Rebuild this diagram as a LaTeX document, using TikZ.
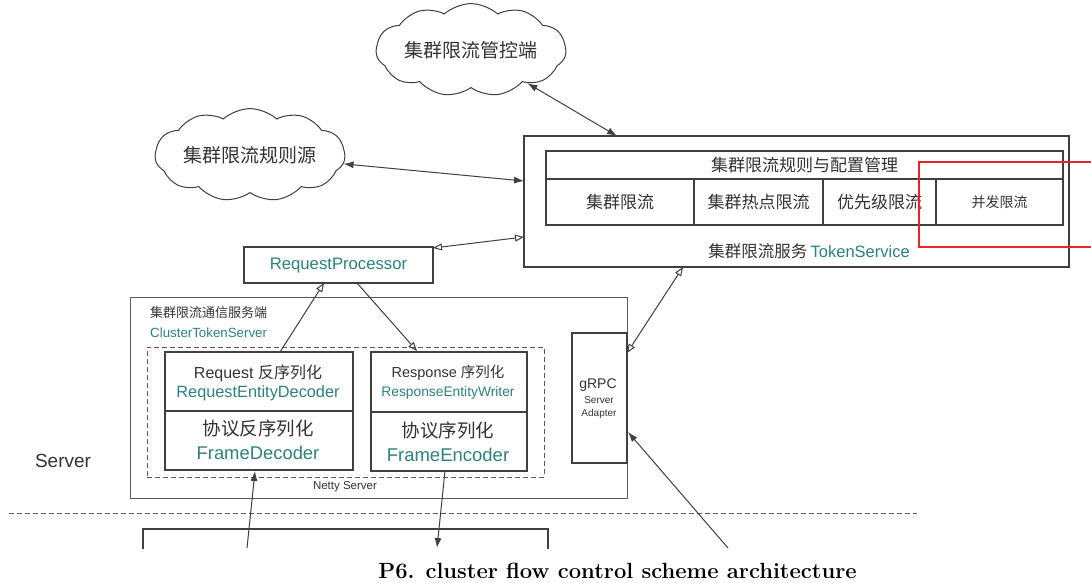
\documentclass[tikz,border=0pt]{standalone}
\usepackage{fontspec}
\usetikzlibrary{shapes.symbols,arrows.meta,calc}
\newfontfamily\lsans{Liberation Sans}
\newfontfamily\cjk{Noto Sans CJK SC}
\newcommand\fsz[1]{\fontsize{#1}{#1}\selectfont}
\definecolor{tealtxt}{RGB}{45,130,125}
\definecolor{txt}{RGB}{51,51,51}
\definecolor{ln}{RGB}{64,64,64}
\definecolor{lnlight}{RGB}{90,90,90}
\definecolor{redbox}{RGB}{235,35,40}
\begin{document}
\begin{tikzpicture}[x=1pt,y=-1pt,
  box/.style={draw=ln, line width=1.2pt, inner sep=0pt, outer sep=0pt, rectangle},
  cloudnode/.style={draw=ln, line width=1pt, cloud, cloud puffs=11, cloud puff arc=85, aspect=2.5, inner sep=0pt, minimum width=190pt, minimum height=74pt, font=\cjk\fsz{19}, text=txt},
  cell/.style={box, minimum height=46pt, font=\cjk\fsz{17}, text=txt},
  lbl/.style={inner sep=0pt, text=txt},
  tl/.style={inner sep=0pt, text=tealtxt},
  biarrow/.style={draw=ln, line width=1pt, {Latex[length=10pt,width=7pt]}-{Latex[length=10pt,width=7pt]}},
  biopen/.style={draw=ln, line width=1pt, {Triangle[open,length=9pt,width=7pt]}-{Triangle[open,length=9pt,width=7pt]}},
  openarrow/.style={draw=ln, line width=1pt, -{Triangle[open,length=9pt,width=7pt]}},
  farrow/.style={draw=ln, line width=1pt, -{Latex[length=10pt,width=7pt]}},
]
\useasboundingbox (0,0) rectangle (1091,582);
\fill[white] (0,0) rectangle (1091,582);

% clouds
\node[cloudnode] (cl1) at (471,50) {集群限流管控端};
\node[cloudnode] (cl2) at (250,155) {集群限流规则源};

% TokenService
\node[box, minimum width=545pt, minimum height=131pt] (ts) at (796.5,201.5) {};
\node[box, minimum width=517pt, minimum height=28pt, font=\cjk\fsz{17}, text=txt] (hdr) at (804.5,165) {集群限流规则与配置管理};
\node[cell, minimum width=148pt] (c1) at (620,202) {集群限流};
\node[cell, minimum width=129pt] (c2) at (758.5,202) {集群热点限流};
\node[cell, minimum width=113pt] (c3) at (879.5,202) {优先级限流};
\node[cell, minimum width=127pt, font=\cjk\fsz{14}] (c4) at (999.5,202) {并发限流};
\node[lbl] (tslabel) at (809,251) {{\cjk\fsz{16.5}集群限流服务} {\lsans\fsz{16.5}\color{tealtxt}TokenService}};
\draw[redbox, line width=2pt] (1095,162) -- (919,162) -- (919,247) -- (1095,247);

% RequestProcessor
\node[box, minimum width=189pt, minimum height=36pt, font=\lsans\fsz{16.7}, text=tealtxt] (rp) at (338.5,265) {RequestProcessor};

% ClusterTokenServer
\node[box, draw=lnlight, line width=1pt, minimum width=497pt, minimum height=201pt] (cts) at (378.5,397.5) {};
\node[lbl, anchor=west, font=\cjk\fsz{13}] (ctsl1) at (150,313) {集群限流通信服务端};
\node[tl, anchor=west, font=\lsans\fsz{13.3}] (ctsl2) at (150,333) {ClusterTokenServer};

\node[draw=lnlight, line width=1pt, dash pattern=on 5pt off 3pt, inner sep=0pt, minimum width=397pt, minimum height=130pt] (netty) at (345.5,412) {};
\node[lbl, font=\lsans\fsz{11.5}] (nettyl) at (345,487) {Netty Server};

% decoder
\node[box, minimum width=188pt, minimum height=59pt] (dect) at (259,381.5) {};
\node[box, minimum width=188pt, minimum height=59pt] (decb) at (259,440.5) {};
\node[lbl] (dect1) at (258,373) {\lsans\fsz{16}Request {\cjk 反序列化}};
\node[tl, font=\lsans\fsz{16.3}] (dect2) at (258,393) {RequestEntityDecoder};
\node[lbl, font=\cjk\fsz{18.5}] (decb1) at (258,428) {协议反序列化};
\node[tl, font=\lsans\fsz{18.4}] (decb2) at (258,453) {FrameDecoder};

% encoder
\node[box, minimum width=156pt, minimum height=60pt] (enct) at (449,382) {};
\node[box, minimum width=156pt, minimum height=59pt] (encb) at (449,441.5) {};
\node[lbl] (enct1) at (448,373) {\lsans\fsz{14.5}Response {\cjk 序列化}};
\node[tl, font=\lsans\fsz{13.8}] (enct2) at (448,393) {ResponseEntityWriter};
\node[lbl, font=\cjk\fsz{18.5}] (encb1) at (448,430) {协议序列化};
\node[tl, font=\lsans\fsz{18.5}] (encb2) at (448,455) {FrameEncoder};

% gRPC
\node[box, minimum width=55pt, minimum height=130pt] (grpc) at (599.5,398) {};
\node[lbl, font=\lsans\fsz{14}] (grpc1) at (598,385) {gRPC};
\node[lbl, font=\lsans\fsz{10}] (grpc2) at (599,400) {Server};
\node[lbl, font=\lsans\fsz{10}] (grpc3) at (599,414) {Adapter};

% Server label and separator
\node[lbl, font=\lsans\fsz{19}] (serverl) at (63,461) {Server};
\coordinate (sepL) at (9,513);
\coordinate (sepR) at (917,513);
\draw[lnlight, line width=1pt, dash pattern=on 5pt off 3pt] (sepL) -- (sepR);

% client box (cut off)
\begin{scope}
\clip (0,0) rectangle (1091,548);
\node[box, minimum width=405pt, minimum height=60pt] (client) at (345.5,559) {};
\end{scope}

% connectors
\coordinate (ts-top) at ($(ts.north west)+(93,0)$);
\draw[biarrow] (cl1) -- (ts-top);
\coordinate (ts-l1) at ($(ts.north west)+(0,45)$);
\draw[biarrow] (cl2) -- (ts-l1);
\coordinate (ts-l2) at ($(ts.north west)+(0,101)$);
\coordinate (rp-r) at ($(rp.north east)+(0,1)$);
\draw[biopen] (rp-r) -- (ts-l2);
\coordinate (dec-top) at ($(dect.north west)+(115,0)$);
\coordinate (rp-b1) at ($(rp.south west)+(80,0)$);
\draw[openarrow] (dec-top) -- (rp-b1);
\coordinate (rp-b2) at ($(rp.south west)+(113,0)$);
\coordinate (enc-top) at ($(enct.north west)+(46,-1)$);
\draw[openarrow] (rp-b2) -- (enc-top);
\coordinate (grpc-r1) at ($(grpc.north east)+(0,20)$);
\coordinate (ts-b) at ($(ts.south west)+(159,0)$);
\draw[biopen] (grpc-r1) -- (ts-b);
\coordinate (in1) at (247,548);
\coordinate (dec-b) at ($(decb.south west)+(90,1)$);
\draw[farrow] (in1) -- (dec-b);
\coordinate (enc-b) at ($(encb.south west)+(74,0)$);
\coordinate (out1) at (437,548);
\draw[farrow] (enc-b) -- (out1);
\coordinate (in2) at (728,548);
\coordinate (grpc-r2) at ($(grpc.north east)+(1,99)$);
\draw[farrow] (in2) -- (grpc-r2);

% caption
\node[inner sep=0pt, font=\fsz{22}\bfseries] (cap) at (617.5,571) {P6. cluster flow control scheme architecture};
\end{tikzpicture}
\end{document}
